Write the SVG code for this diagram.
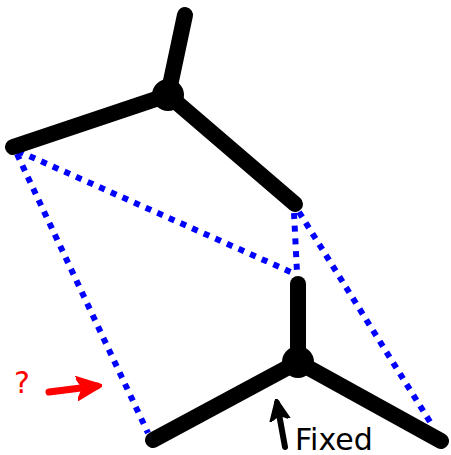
<svg xmlns="http://www.w3.org/2000/svg" width="451" height="455" viewBox="0 0 451 455">
<style>
.arm{stroke:#000;stroke-width:16;stroke-linecap:round;fill:none}
.dot{stroke:#00f;stroke-width:6;stroke-dasharray:6 6.7;fill:none}
</style>
<defs>
<marker id="ar-red" viewBox="0 0 10 10" refX="8" refY="5" markerWidth="3.6" markerHeight="3.6" orient="auto" markerUnits="strokeWidth"><path d="M0,0.5 L10,5 L0,9.5 L2.5,5 Z" fill="#f00" stroke="#f00" stroke-width="1" stroke-linejoin="round"/></marker>
<marker id="ar-blk" viewBox="0 0 10 10" refX="8" refY="5" markerWidth="3.6" markerHeight="3.6" orient="auto" markerUnits="strokeWidth"><path d="M0,0.5 L10,5 L0,9.5 L2.5,5 Z" fill="#000" stroke="#000" stroke-width="1" stroke-linejoin="round"/></marker>
</defs>
<g id="connectors">
<line class="dot" x1="17" y1="154" x2="148" y2="433"/>
<line class="dot" x1="18" y1="151" x2="293" y2="273"/>
<line class="dot" x1="294" y1="213" x2="297" y2="272"/>
<line class="dot" x1="299" y1="212" x2="432" y2="425"/>
</g>
<g id="top-tripod">
<line class="arm" x1="168" y1="95" x2="185" y2="15"/>
<line class="arm" x1="168" y1="95" x2="13" y2="147"/>
<line class="arm" x1="168" y1="95" x2="295" y2="204"/>
<circle cx="168" cy="95" r="16" fill="#000"/>
</g>
<g id="bottom-tripod">
<line class="arm" x1="298" y1="362" x2="298" y2="284"/>
<line class="arm" x1="298" y1="362" x2="153" y2="440"/>
<line class="arm" x1="298" y1="362" x2="441" y2="441"/>
<circle cx="298" cy="362" r="16" fill="#000"/>
</g>
<g id="question">
<text x="22" y="393" font-family="DejaVu Sans, sans-serif" font-size="30" fill="#f00" text-anchor="middle">?</text>
<line x1="49" y1="392" x2="97" y2="386" stroke="#f00" stroke-width="7" stroke-linecap="round" marker-end="url(#ar-red)"/>
</g>
<g id="fixed">
<line x1="285" y1="447" x2="277" y2="403" stroke="#000" stroke-width="6" stroke-linecap="round" marker-end="url(#ar-blk)"/>
<text x="295" y="450" font-family="DejaVu Sans, sans-serif" font-size="30" fill="#000">Fixed</text>
</g>
</svg>
